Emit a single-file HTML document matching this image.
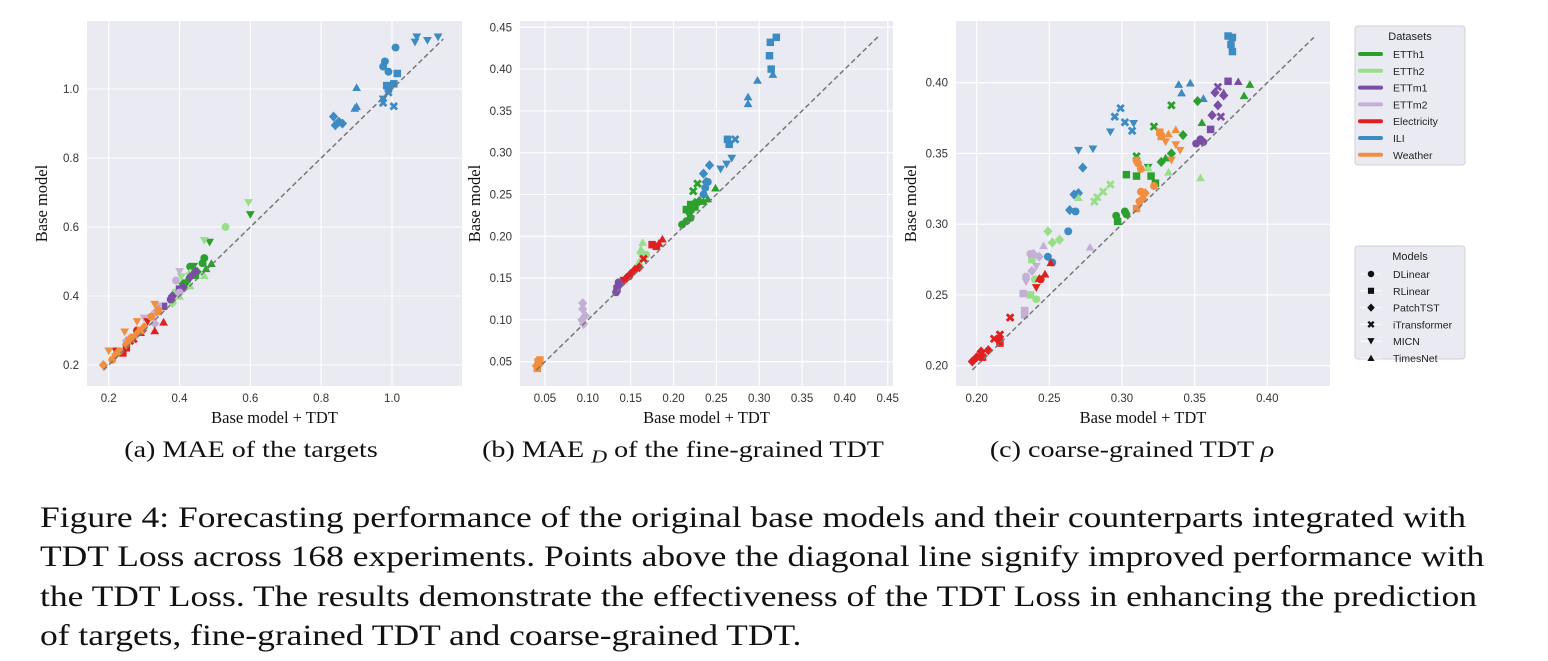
<!DOCTYPE html>
<html><head><meta charset="utf-8">
<style>
body{margin:0;background:#fff;width:1548px;height:661px;overflow:hidden;position:relative;font-family:"Liberation Serif",serif}
#cap{position:absolute;left:40px;top:499px;font-size:29.5px;line-height:39.3px;color:#111;white-space:nowrap;transform:scaleX(1.203);transform-origin:0 0}
.sub{position:absolute;top:437px;font-size:23px;color:#111;white-space:nowrap;transform:translateX(-50%) scaleX(1.22)}
</style></head>
<body>
<svg id="chart" width="1548" height="480" style="position:absolute;left:0;top:0"></svg>
<div class="sub" style="left:251px">(a) MAE of the targets</div>
<div class="sub" style="left:683px">(b) MAE <sub style="font-size:18px"><i>D</i></sub> of the fine-grained TDT</div>
<div class="sub" style="left:1132px">(c) coarse-grained TDT <i>ρ</i></div>
<div id="cap">Figure 4: Forecasting performance of the original base models and their counterparts integrated with<br>TDT Loss across 168 experiments. Points above the diagonal line signify improved performance with<br>the TDT Loss. The results demonstrate the effectiveness of the TDT Loss in enhancing the prediction<br>of targets, fine-grained TDT and coarse-grained TDT.</div>
<script>
const datasets=["ETTh1","ETTh2","ETTm1","ETTm2","Electricity","ILI","Weather"];
const models=["DLinear","RLinear","PatchTST","iTransformer","MICN","TimesNet"];
const ticksA=[0.2,0.4,0.6,0.8,1.0];
const ticksB=[0.05,0.10,0.15,0.20,0.25,0.30,0.35,0.40,0.45];
const ticksC=[0.20,0.25,0.30,0.35,0.40];
// [x, y, datasetIndex, modelIndex]
const pointsA=[
[0.98,1.08,5,0],[0.975,1.065,5,0],[0.99,1.05,5,0],[1.01,1.12,5,0],[1.015,1.045,5,1],[0.985,1.01,5,1],[1.005,1.015,5,1],[0.99,1.0,5,1],
[0.835,0.92,5,2],[0.84,0.895,5,2],[0.85,0.905,5,2],[0.86,0.9,5,2],[0.975,0.96,5,3],[1.005,0.95,5,3],[0.99,0.99,5,3],
[1.07,1.15,5,4],[1.065,1.135,5,4],[1.1,1.14,5,4],[1.13,1.15,5,4],[0.975,0.97,5,4],[0.9,1.005,5,5],[0.895,0.945,5,5],[0.9,0.95,5,5],
[0.47,0.51,0,0],[0.43,0.485,0,0],[0.465,0.495,0,0],[0.485,0.555,0,4],[0.6,0.635,0,4],[0.44,0.485,0,4],[0.49,0.495,0,5],[0.475,0.48,0,5],
[0.45,0.47,0,2],[0.42,0.44,0,2],[0.41,0.435,0,2],[0.445,0.46,0,1],
[0.53,0.6,1,0],[0.595,0.67,1,4],[0.47,0.56,1,4],[0.405,0.455,1,4],[0.47,0.46,1,5],[0.43,0.43,1,5],[0.40,0.40,1,5],[0.43,0.465,1,2],[0.38,0.38,1,2],[0.39,0.41,1,1],
[0.41,0.425,2,2],[0.445,0.47,2,2],[0.43,0.455,2,2],[0.38,0.4,2,2],[0.355,0.37,2,1],[0.4,0.42,2,1],[0.375,0.39,2,0],[0.38,0.39,2,4],[0.44,0.47,2,5],
[0.39,0.445,3,0],[0.40,0.41,3,0],[0.33,0.35,3,0],[0.4,0.47,3,4],[0.3,0.335,3,4],[0.33,0.32,3,2],[0.25,0.27,3,2],[0.34,0.37,3,1],
[0.33,0.3,4,5],[0.355,0.325,4,5],[0.29,0.295,4,5],[0.31,0.325,4,4],[0.22,0.24,4,4],[0.27,0.275,4,3],[0.26,0.27,4,3],[0.24,0.235,4,1],[0.25,0.25,4,1],[0.28,0.3,4,0],[0.295,0.3,4,2],
[0.185,0.2,6,2],[0.22,0.23,6,2],[0.25,0.26,6,2],[0.26,0.275,6,2],[0.28,0.29,6,2],[0.3,0.31,6,2],[0.34,0.36,6,2],[0.2,0.24,6,4],[0.245,0.295,6,4],[0.28,0.325,6,4],[0.33,0.375,6,4],
[0.21,0.215,6,0],[0.23,0.24,6,0],[0.265,0.28,6,0],[0.32,0.34,6,0],[0.34,0.355,6,1],[0.29,0.3,6,1]];
const pointsB=[
[0.32,0.438,5,1],[0.313,0.432,5,1],[0.312,0.416,5,1],[0.314,0.4,5,1],[0.263,0.316,5,1],[0.265,0.31,5,1],[0.272,0.316,5,3],
[0.298,0.387,5,5],[0.287,0.367,5,5],[0.287,0.359,5,5],[0.316,0.394,5,5],[0.242,0.285,5,2],[0.235,0.275,5,2],[0.238,0.265,5,2],
[0.235,0.25,5,0],[0.24,0.265,5,0],[0.237,0.258,5,0],[0.255,0.28,5,4],[0.262,0.286,5,4],[0.268,0.293,5,4],
[0.21,0.214,0,0],[0.215,0.218,0,0],[0.22,0.222,0,0],[0.215,0.232,0,1],[0.22,0.238,0,1],[0.225,0.235,0,1],[0.223,0.254,0,3],[0.228,0.263,0,3],
[0.249,0.258,0,5],[0.24,0.245,0,5],[0.235,0.242,0,5],[0.22,0.23,0,2],[0.225,0.24,0,2],[0.23,0.242,0,2],[0.218,0.225,0,4],
[0.164,0.193,1,5],[0.162,0.185,1,5],[0.165,0.175,1,5],[0.16,0.17,1,5],[0.162,0.18,1,2],[0.168,0.178,1,0],
[0.175,0.19,4,1],[0.18,0.188,4,1],[0.187,0.197,4,5],[0.183,0.192,4,5],[0.165,0.173,4,3],[0.145,0.15,4,2],[0.15,0.155,4,2],[0.155,0.16,4,2],[0.16,0.163,4,2],[0.148,0.152,4,0],[0.142,0.147,4,4],
[0.133,0.133,2,0],[0.135,0.14,2,0],[0.136,0.145,2,0],[0.137,0.142,2,2],[0.134,0.137,2,1],
[0.094,0.12,3,2],[0.094,0.113,3,2],[0.093,0.1,3,2],[0.097,0.105,3,2],[0.095,0.095,3,2],
[0.042,0.05,6,1],[0.041,0.042,6,1],[0.044,0.052,6,1],[0.04,0.045,6,2],[0.043,0.047,6,0]];
const pointsC=[
[0.373,0.433,5,1],[0.376,0.432,5,1],[0.375,0.427,5,1],[0.376,0.422,5,1],[0.339,0.399,5,5],[0.347,0.4,5,5],[0.341,0.393,5,5],[0.356,0.389,5,5],
[0.299,0.382,5,3],[0.295,0.376,5,3],[0.302,0.372,5,3],[0.307,0.366,5,3],[0.308,0.371,5,4],[0.292,0.365,5,4],[0.28,0.353,5,4],[0.27,0.352,5,4],
[0.273,0.34,5,2],[0.267,0.321,5,2],[0.27,0.322,5,2],[0.264,0.31,5,2],[0.268,0.309,5,0],[0.263,0.295,5,0],[0.249,0.277,5,0],[0.252,0.273,5,0],
[0.334,0.384,0,3],[0.322,0.369,0,3],[0.31,0.348,0,3],[0.352,0.387,0,2],[0.342,0.363,0,2],[0.334,0.35,0,2],[0.327,0.344,0,2],
[0.388,0.399,0,5],[0.384,0.391,0,5],[0.355,0.372,0,5],[0.33,0.347,0,5],[0.303,0.335,0,1],[0.31,0.334,0,1],[0.32,0.334,0,1],[0.323,0.329,0,1],[0.297,0.302,0,1],
[0.296,0.306,0,0],[0.302,0.309,0,0],[0.303,0.307,0,0],[0.318,0.34,0,4],
[0.354,0.333,1,5],[0.332,0.337,1,5],[0.318,0.34,1,5],[0.27,0.319,1,5],[0.292,0.328,1,3],[0.287,0.323,1,3],[0.283,0.319,1,3],[0.281,0.316,1,3],
[0.249,0.295,1,2],[0.257,0.289,1,2],[0.252,0.287,1,2],[0.24,0.261,1,0],[0.241,0.247,1,0],[0.237,0.25,1,1],[0.238,0.275,1,1],
[0.373,0.401,2,1],[0.361,0.367,2,1],[0.38,0.401,2,5],[0.37,0.393,2,5],[0.364,0.393,2,2],[0.366,0.384,2,2],[0.362,0.377,2,2],[0.37,0.391,2,2],
[0.366,0.397,2,3],[0.368,0.376,2,3],[0.351,0.357,2,0],[0.354,0.36,2,0],[0.356,0.358,2,0],
[0.234,0.263,3,0],[0.237,0.279,3,0],[0.239,0.279,3,2],[0.238,0.267,3,2],[0.243,0.277,3,2],[0.246,0.285,3,5],[0.278,0.284,3,5],[0.234,0.259,3,4],[0.241,0.27,3,4],
[0.232,0.251,3,1],[0.233,0.236,3,1],[0.233,0.239,3,1],
[0.223,0.234,4,3],[0.216,0.222,4,3],[0.212,0.219,4,3],[0.215,0.219,4,2],[0.197,0.203,4,2],[0.2,0.206,4,2],[0.203,0.21,4,2],[0.208,0.211,4,2],
[0.204,0.206,4,1],[0.216,0.216,4,1],[0.251,0.273,4,5],[0.247,0.265,4,5],[0.243,0.262,4,5],[0.241,0.255,4,4],[0.244,0.261,4,0],
[0.326,0.365,6,1],[0.327,0.362,6,1],[0.31,0.311,6,1],[0.31,0.345,6,0],[0.311,0.343,6,0],[0.313,0.339,6,0],[0.322,0.327,6,0],[0.313,0.323,6,0],[0.312,0.316,6,0],
[0.337,0.367,6,5],[0.332,0.364,6,5],[0.33,0.358,6,4],[0.337,0.356,6,4],[0.34,0.352,6,4],[0.334,0.345,6,4],[0.316,0.322,6,2],[0.314,0.318,6,2]];

const colors=["#2ca02c","#98df8a","#7b4ea6","#c5b0d5","#e0201f","#3c8bc3","#f28e3f"];
const NS="http://www.w3.org/2000/svg";
const svg=document.getElementById('chart');
function mk(tag,attrs,parent){const e=document.createElementNS(NS,tag);for(const k in attrs)e.setAttribute(k,attrs[k]);(parent||svg).appendChild(e);return e;}
function marker(g,m,x,y,c,s){
  s=s||1.1;let e;
  if(m===0)e=mk('circle',{cx:x,cy:y,r:3.6*s,fill:c},g);
  else if(m===1)e=mk('rect',{x:x-3.4*s,y:y-3.4*s,width:6.8*s,height:6.8*s,fill:c},g);
  else if(m===2)e=mk('polygon',{points:`${x},${y-4.6*s} ${x+4.2*s},${y} ${x},${y+4.6*s} ${x-4.2*s},${y}`,fill:c},g);
  else if(m===3)e=mk('path',{d:`M${x-3*s},${y-3*s}L${x+3*s},${y+3*s}M${x+3*s},${y-3*s}L${x-3*s},${y+3*s}`,stroke:c,'stroke-width':2.6*s},g);
  else if(m===4)e=mk('polygon',{points:`${x-4*s},${y-3.4*s} ${x+4*s},${y-3.4*s} ${x},${y+3.6*s}`,fill:c},g);
  else e=mk('polygon',{points:`${x-4*s},${y+3.4*s} ${x+4*s},${y+3.4*s} ${x},${y-3.6*s}`,fill:c},g);
  return e;
}
function panel(id,box,xr,yr,ticks,fmt,pts,diag){
  const g=mk('g',{});
  
  
  const sx=v=>xr[2]+(v-xr[0])/(xr[1]-xr[0])*(xr[3]-xr[2]);
  const sy=v=>yr[2]+(v-yr[0])/(yr[1]-yr[0])*(yr[3]-yr[2]);
  mk('rect',{x:box[0],y:box[1],width:box[2]-box[0],height:box[3]-box[1],fill:'#eaeaf2'},g);
  ticks.forEach(t=>{
    const X=sx(t);
    if(X>=box[0]-1&&X<=box[2]+1){mk('line',{x1:X,x2:X,y1:box[1],y2:box[3],stroke:'#fff','stroke-width':1.1},g);
      const tl=mk('text',{x:X,y:box[3]+16,'text-anchor':'middle','font-size':11.5,fill:'#333','font-family':'Liberation Sans, sans-serif'},g);tl.textContent=fmt(t);
      }
    const Y=sy(t);
    if(Y>=box[1]-1&&Y<=box[3]+1){mk('line',{x1:box[0],x2:box[2],y1:Y,y2:Y,stroke:'#fff','stroke-width':1.1},g);
      const tl=mk('text',{x:box[0]-8,y:Y+4,'text-anchor':'end','font-size':11.5,fill:'#333','font-family':'Liberation Sans, sans-serif'},g);tl.textContent=fmt(t);
      }
  });
  pts.forEach(p=>{const e=marker(g,p[3],sx(p[0]),sy(p[1]),colors[p[2]]);
    
    });
  const d=mk('line',{x1:sx(diag[0]),y1:sy(diag[0]),x2:sx(diag[1]),y2:sy(diag[1]),stroke:'#777','stroke-width':1.5,'stroke-dasharray':'5,3'},g);
  
  const xl=mk('text',{x:(box[0]+box[2])/2,y:box[3]+37,'text-anchor':'middle','font-size':16.5,fill:'#111','font-family':'Liberation Serif, serif'},g);xl.textContent='Base model + TDT';
  
  const yx=box[0]-40,yy=(box[1]+box[3])/2;
  const yl=mk('text',{x:yx,y:yy,'text-anchor':'middle','font-size':16.5,fill:'#111','font-family':'Liberation Serif, serif',transform:`rotate(-90 ${yx} ${yy})`},g);yl.textContent='Base model';
  
}
panel('mae-targets',[87,21,462,386],[0.2,1.0,108.7,392],[0.2,1.0,365,89],ticksA,t=>t.toFixed(1),pointsA,[0.185,1.145]);
panel('mae-d',[520,21,893,386],[0.05,0.45,545,887.7],[0.05,0.45,361.7,27.3],ticksB,t=>t.toFixed(2),pointsB,[0.04,0.44]);
panel('rho',[956,21,1330,386],[0.2,0.4,976.7,1267.3],[0.2,0.4,365.7,82.7],ticksC,t=>t.toFixed(2),pointsC,[0.197,0.432]);

function legend(name,title,y0,h,items,draw){
  const g=mk('g',{});
  
  
  mk('rect',{x:1355,y:y0,width:110,height:h,rx:3,fill:'#eaeaf2',stroke:'#d0d0d8'},g);
  const t=mk('text',{x:1410,y:y0+14,'text-anchor':'middle','font-size':11,fill:'#222','font-family':'Liberation Sans, sans-serif'},g);t.textContent=title;
  items.forEach((it,i)=>{const y=y0+28+i*16.8;draw(g,i,y);
    const tx=mk('text',{x:1393,y:y+4,'font-size':10.5,fill:'#222','font-family':'Liberation Sans, sans-serif'},g);tx.textContent=it;
    });
}
legend('datasets-legend','Datasets',26,139,datasets,(g,i,y)=>mk('line',{x1:1360,x2:1381,y1:y,y2:y,stroke:colors[i],'stroke-width':4,'stroke-linecap':'round'},g));
legend('models-legend','Models',246,113,models,(g,i,y)=>{mk('line',{x1:1360,x2:1381,y1:y,y2:y,stroke:'#fff','stroke-width':1},g);marker(g,i,1371,y,'#111',0.9);});
</script>
</body></html>
